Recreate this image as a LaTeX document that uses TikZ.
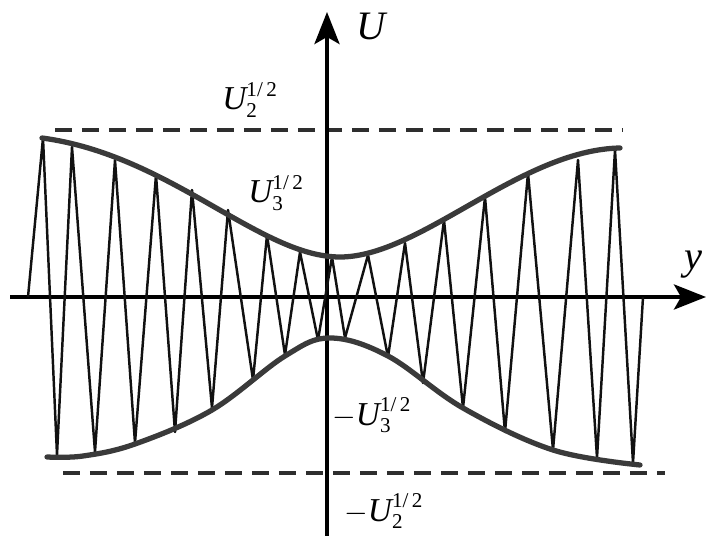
\documentclass[tikz,border=0pt]{standalone}
\usepackage{amsmath}
\usepackage{fontspec}
\setmainfont{Liberation Serif}
\usepackage{tikz}
\usetikzlibrary{arrows.meta}
\definecolor{waveBlack}{HTML}{111111}
\definecolor{waveEnv}{HTML}{3A3A3A}
\definecolor{waveDash}{HTML}{2E2E2E}
\DeclareMathSizes{19}{19}{12}{9}
\tikzset{
  axisline/.style={line width=2.3pt,black,
    -{Stealth[length=0.64cm,width=0.5cm,inset=0.14cm]}},
  envline/.style={line width=3pt,waveEnv,line cap=round},
  dashline/.style={line width=2.2pt,waveDash,dash pattern=on 0.34cm off 0.2cm},
  wave/.style={line width=1.4pt,waveBlack,line join=round},
  lab/.style={font=\fontsize{19}{23}\selectfont,anchor=base west,inner sep=0pt},
  axlab/.style={font=\fontsize{23}{28}\selectfont\itshape,anchor=base west,inner sep=0pt}
}

\begin{document}
\begin{tikzpicture}[x=0.02cm,y=-0.02cm]
  \useasboundingbox (0,0) rectangle (706,536);
  % bounds
  \draw[dashline] (55,130) -- (622,130);
  \draw[dashline] (63,473) -- (665,473);
  % axes
  \draw[axisline] (10,297) -- (706,297);
  \draw[axisline] (327,536) -- (327,12);
  \node[axlab] (labU) at (356,40) {U};
  \node[axlab] (laby) at (684,270) {y};
  % oscillation
  \draw[wave] (28,297) -- (43,138) -- (57,455) -- (72,147) -- (95,452)
    -- (115,160) -- (135,443) -- (156,175) -- (175,432) -- (192,190)
    -- (212,408) -- (228,210) -- (253,380) -- (267,235) -- (285,355)
    -- (300,252) -- (318,340) -- (332,257) -- (345,338) -- (368,255)
    -- (388,357) -- (405,243) -- (423,383) -- (444,220) -- (463,408)
    -- (485,197) -- (505,432) -- (528,173) -- (553,450) -- (578,160)
    -- (597,458) -- (615,150) -- (633,463) -- (643,297);
  % envelopes
  \draw[envline] (42,138) .. controls (170,155) and (260,257) .. (340,257)
    .. controls (420,257) and (520,150) .. (620,148);
  \draw[envline] plot[smooth,tension=0.6] coordinates {(47,457) (83,456)
    (135,444) (212,410) (285,356) (330,338) (388,356) (463,408) (553,450)
    (640,465)};
  % levels
  \node[lab] (labUtwo) at (222,110) {$\textit{U}_{\textup{2}}^{\textup{1/\,2}}$};
  \node[lab] (labUthree) at (248,203) {$\textit{U}_{\textup{3}}^{\textup{1/\,2}}$};
  \node[lab] (labmUthree) at (332,425) {$-\textit{U}_{\textup{3}}^{\textup{1/\,2}}$};
  \node[lab] (labmUtwo) at (344,521) {$-\textit{U}_{\textup{2}}^{\textup{1/\,2}}$};
\end{tikzpicture}
\end{document}
